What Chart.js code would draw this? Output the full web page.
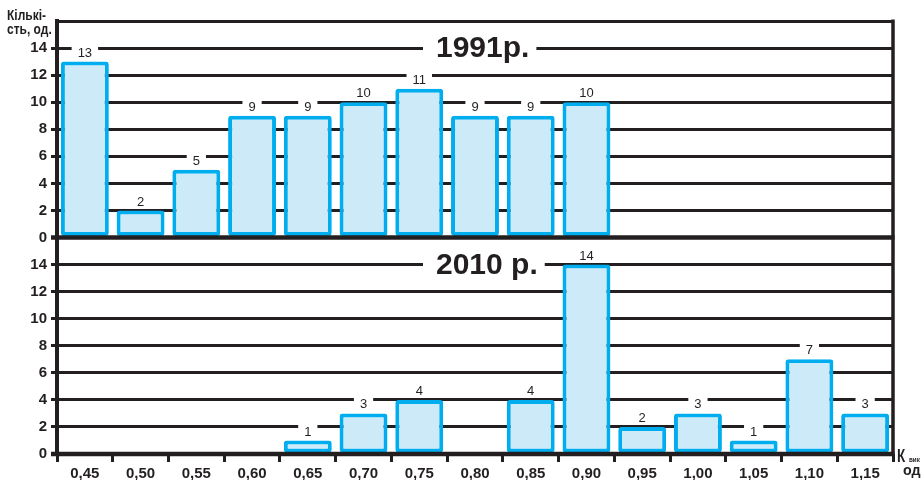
<!DOCTYPE html>
<html>
<head>
<meta charset="utf-8">
<script src="https://cdn.jsdelivr.net/npm/chart.js@4.4.0/dist/chart.umd.min.js"></script>
<style>
  html, body { margin: 0; padding: 0; background: #ffffff; }
  #wrap { width: 921px; height: 480px; }
</style>
</head>
<body>
<div id="wrap"><canvas id="c" width="921" height="480"></canvas></div>
<script>
// Coefficient classes along the shared horizontal axis
const categories = ['0,45', '0,50', '0,55', '0,60', '0,65', '0,70', '0,75', '0,80',
                    '0,85', '0,90', '0,95', '1,00', '1,05', '1,10', '1,15'];
// Counts per class, 1991 (upper panel)
const values1991 = [13, 2, 5, 9, 9, 10, 11, 9, 9, 10, null, null, null, null, null];
// Counts per class, 2010 (lower panel)
const values2010 = [null, null, null, null, 1, 3, 4, null, 4, 14, 2, 3, 1, 7, 3];
// Vertical scale of each panel
const yTickStep = 2;
const yMax = 16;
const panelTitles = ['1991р.', '2010 р.'];
const yAxisTitle = ['Кількі-', 'сть, од.'];

const INK = '#231F20';
const BAR_LINE = '#00AEEF';
const BAR_FILL = '#CDEAF9';
const FONT = '"Liberation Sans", Arial, sans-serif';

// condensed text: draw with a horizontal squeeze
function squeezedText(ctx, text, x, y, font, sx) {
  ctx.save();
  ctx.font = font;
  ctx.translate(x, y);
  ctx.scale(sx, 1);
  ctx.fillText(text, 0, 0);
  ctx.restore();
}

const decor = {
  id: 'decor',
  afterDatasetsDraw(chart) {
    const ctx = chart.ctx;
    const area = chart.chartArea;
    const xs = chart.scales.x;
    const yTop = chart.scales.y1;
    const yBot = chart.scales.y2;

    ctx.save();
    ctx.strokeStyle = INK;
    ctx.lineCap = 'butt';

    // baselines of both panels
    ctx.lineWidth = 4.5;
    [yTop, yBot].forEach(s => {
      const y = s.getPixelForValue(0);
      ctx.beginPath();
      ctx.moveTo(area.left - 6, y);
      ctx.lineTo(area.right + 1.5, y);
      ctx.stroke();
    });

    // right frame
    ctx.lineWidth = 3.5;
    ctx.beginPath();
    ctx.moveTo(area.right, area.top - 1.5);
    ctx.lineTo(area.right, area.bottom + 2);
    ctx.stroke();

    // value labels above the bars
    ctx.font = '13px ' + FONT;
    ctx.textAlign = 'center';
    ctx.textBaseline = 'middle';
    chart.data.datasets.forEach((ds, di) => {
      const meta = chart.getDatasetMeta(di);
      meta.data.forEach((el, i) => {
        const v = ds.data[i];
        if (v === null || v === undefined) return;
        const txt = String(v);
        const w = ctx.measureText(txt).width + 12;
        const cy = el.y - 9;
        ctx.fillStyle = '#ffffff';
        ctx.fillRect(el.x - w / 2, cy - 7, w, 13);
        ctx.fillStyle = INK;
        ctx.fillText(txt, el.x, cy + 0.5);
      });
    });

    // panel titles sitting on the 14 gridline
    ctx.font = 'bold 30px ' + FONT;
    ctx.textAlign = 'left';
    [[yTop, panelTitles[0]], [yBot, panelTitles[1]]].forEach(([s, t]) => {
      const y = s.getPixelForValue(14);
      const x0 = xs.getPixelForValue(7) - 39;
      const w = ctx.measureText(t).width;
      ctx.fillStyle = '#ffffff';
      ctx.fillRect(x0 - 13, y - 11, w + 20, 22);
      ctx.fillStyle = INK;
      ctx.fillText(t, x0, y + 1);
    });

    // axis captions
    ctx.fillStyle = INK;
    ctx.textBaseline = 'alphabetic';
    squeezedText(ctx, yAxisTitle[0], 7, 20, 'bold 15px ' + FONT, 0.8);
    squeezedText(ctx, yAxisTitle[1], 7, 34, 'bold 15px ' + FONT, 0.8);

    squeezedText(ctx, 'К', 897, 462, 'bold 18px ' + FONT, 0.75);
    squeezedText(ctx, 'вик', 909, 462, 'bold 7px ' + FONT, 0.9);
    squeezedText(ctx, 'од', 903, 475, 'bold 15px ' + FONT, 0.95);
    ctx.restore();
  }
};

function yScale(hideTopGrid) {
  return {
    type: 'linear',
    position: 'left',
    stack: 'panels',
    stackWeight: 1,
    min: 0,
    max: yMax,
    ticks: {
      stepSize: yTickStep,
      autoSkip: false,
      padding: 4,
      color: INK,
      font: { family: FONT, size: 15, weight: 'bold' },
      callback: v => (v === yMax ? '' : v)
    },
    grid: {
      lineWidth: 3,
      color: c => {
        const v = c.tick ? c.tick.value : null;
        if (v === 0) return 'rgba(0,0,0,0)';
        if (v === yMax && hideTopGrid) return 'rgba(0,0,0,0)';
        return INK;
      },
      tickLength: 6,
      tickWidth: 3,
      tickColor: c => (c.tick && c.tick.value === yMax ? 'rgba(0,0,0,0)' : INK)
    },
    border: { display: true, color: INK, width: 4 },
    afterFit: s => { s.width = 57; }
  };
}

new Chart(document.getElementById('c'), {
  type: 'bar',
  data: {
    labels: categories,
    datasets: [
      {
        label: '1991',
        data: values1991,
        yAxisID: 'y1',
        grouped: false,
        backgroundColor: BAR_FILL,
        borderColor: BAR_LINE,
        borderWidth: 4,
        borderRadius: 3,
        borderSkipped: false,
        barPercentage: 0.86,
        categoryPercentage: 1
      },
      {
        label: '2010',
        data: values2010,
        yAxisID: 'y2',
        grouped: false,
        backgroundColor: BAR_FILL,
        borderColor: BAR_LINE,
        borderWidth: 4,
        borderRadius: 3,
        borderSkipped: false,
        barPercentage: 0.86,
        categoryPercentage: 1
      }
    ]
  },
  options: {
    responsive: false,
    devicePixelRatio: 1,
    animation: false,
    layout: { padding: { top: 21, right: 28, bottom: 0, left: 0 } },
    plugins: { legend: { display: false }, tooltip: { enabled: false }, title: { display: false } },
    scales: {
      x: {
        type: 'category',
        offset: true,
        grid: {
          offset: true,
          drawOnChartArea: false,
          color: INK,
          lineWidth: 3,
          tickLength: 8,
          tickWidth: 3,
          tickColor: INK
        },
        border: { display: false },
        ticks: {
          color: INK,
          padding: 3,
          maxRotation: 0,
          font: { family: FONT, size: 15, weight: 'bold' }
        },
        afterFit: s => { s.height = 26; }
      },
      // lower panel is listed first so the stack places it beneath
      y2: yScale(true),
      y1: yScale(false)
    }
  },
  plugins: [decor]
});
</script>
</body>
</html>
